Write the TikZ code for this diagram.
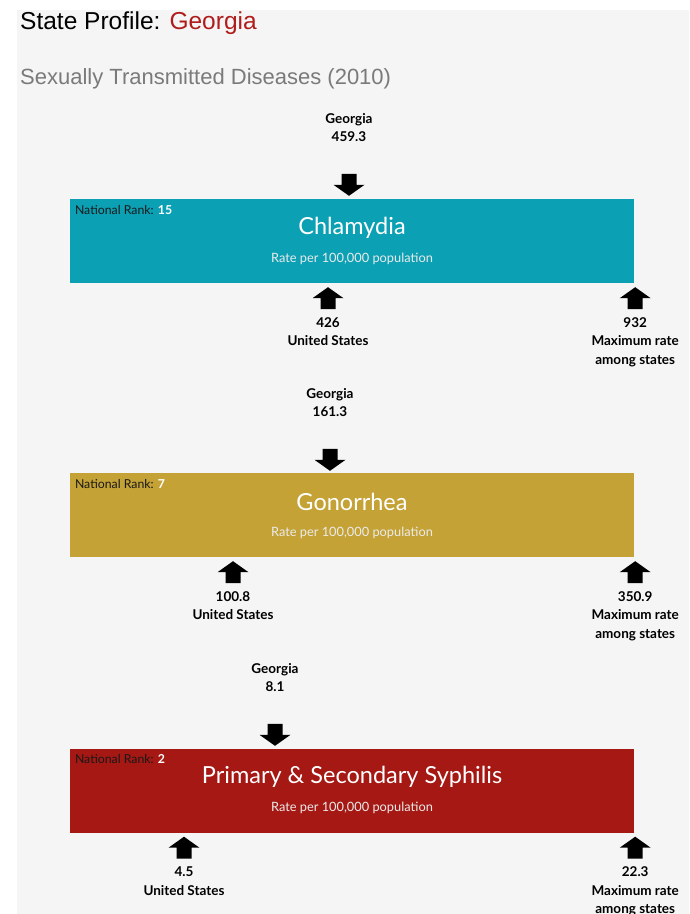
\documentclass[tikz,border=0pt]{standalone}
\usepackage{fontspec}
\setmainfont{Lato}
\newfontfamily\arialf{Liberation Sans}
\usetikzlibrary{calc}
\definecolor{bgc}{HTML}{F5F5F5}
\definecolor{chlc}{HTML}{0CA0B4}
\definecolor{gonc}{HTML}{C4A236}
\definecolor{syphc}{HTML}{A51813}
\definecolor{geoc}{HTML}{B01C1C}
\definecolor{subc}{HTML}{7A7A7A}
\begin{document}
\begin{tikzpicture}[x=1pt,y=-1pt,
  box/.style={rectangle, minimum width=564pt, minimum height=84pt, inner sep=0pt},
  lbl/.style={font=\fontsize{13.5}{18.5}\selectfont\bfseries, align=center, anchor=north, inner sep=0pt, text=black},
  boxtitle/.style={font=\fontsize{23.5}{27}\selectfont, text=white, inner sep=0pt},
  rate/.style={font=\fontsize{12.8}{14}\selectfont, text=white!92!black, inner sep=0pt},
  rank/.style={font=\fontsize{12.3}{14}\selectfont, anchor=west, inner sep=0pt, text=black!90},
  uparr/.pic={\fill[black] (0,0)--(15.5,11)--(7.5,11)--(7.5,22)--(-7.5,22)--(-7.5,11)--(-15.5,11)--cycle;},
  dnarr/.pic={\fill[black] (0,0)--(15.5,-11)--(7.5,-11)--(7.5,-22)--(-7.5,-22)--(-7.5,-11)--(-15.5,-11)--cycle;}
]
\useasboundingbox (0,0) rectangle (689,914);
\fill[white] (0,0) rectangle (689,914);
\fill[bgc] (17,10) rectangle (689,914);

% titles
\node[anchor=base west, inner sep=0pt, font=\arialf\fontsize{24.5}{28}\selectfont] (title) at (20,29.5) {State Profile: \textcolor{geoc}{Georgia}};
\node[anchor=base west, inner sep=0pt, font=\arialf\fontsize{22}{26}\selectfont, text=subc] (subtitle) at (20,84) {Sexually Transmitted Diseases (2010)};

% Chlamydia
\node[box, fill=chlc] (chl) at (352,241) {};
\node[boxtitle] (chlT) at ($(chl.north)+(0,29)$) {Chlamydia};
\node[rate] (chlRate) at ($(chl.north)+(0,60)$) {Rate per 100,000 population};
\node[rank] (chlRank) at ($(chl.north west)+(5,11)$) {National Rank: \textcolor{white}{\bfseries 15}};
\pic (chlDn) at ($(chl.north)+(-3,-3)$) {dnarr};
\node[lbl] (chlGeo) at ($(chl.north)+(-3,-86)$) {Georgia\\459.3};
\pic (chlUp) at ($(chl.south)+(-24,4)$) {uparr};
\node[lbl] (chlUS) at ($(chl.south)+(-24,34)$) {426\\United States};
\pic (chlMx) at ($(chl.south east)+(1,4)$) {uparr};
\node[lbl] (chlMax) at ($(chl.south east)+(1,34)$) {932\\Maximum rate\\among states};

% Gonorrhea
\node[box, fill=gonc] (gon) at (352,515) {};
\node[boxtitle] (gonT) at ($(gon.north)+(0,29)$) {Gonorrhea};
\node[rate] (gonRate) at ($(gon.north)+(0,60)$) {Rate per 100,000 population};
\node[rank] (gonRank) at ($(gon.north west)+(5,11)$) {National Rank: \textcolor{white}{\bfseries 7}};
\pic (gonDn) at ($(gon.north)+(-22,-2)$) {dnarr};
\node[lbl] (gonGeo) at ($(gon.north)+(-22,-85)$) {Georgia\\161.3};
\pic (gonUp) at ($(gon.south)+(-119,4)$) {uparr};
\node[lbl] (gonUS) at ($(gon.south)+(-119,34)$) {100.8\\United States};
\pic (gonMx) at ($(gon.south east)+(1,4)$) {uparr};
\node[lbl] (gonMax) at ($(gon.south east)+(1,34)$) {350.9\\Maximum rate\\among states};

% Syphilis
\node[box, fill=syphc] (syp) at (352,790.5) {};
\node[boxtitle] (sypT) at ($(syp.north)+(0,29)$) {Primary \& Secondary Syphilis};
\node[rate] (sypRate) at ($(syp.north)+(0,60)$) {Rate per 100,000 population};
\node[rank] (sypRank) at ($(syp.north west)+(5,11)$) {National Rank: \textcolor{white}{\bfseries 2}};
\pic (sypDn) at ($(syp.north)+(-77,-2.5)$) {dnarr};
\node[lbl] (sypGeo) at ($(syp.north)+(-77,-85.5)$) {Georgia\\8.1};
\pic (sypUp) at ($(syp.south)+(-168,4)$) {uparr};
\node[lbl] (sypUS) at ($(syp.south)+(-168,34)$) {4.5\\United States};
\pic (sypMx) at ($(syp.south east)+(1,4)$) {uparr};
\node[lbl] (sypMax) at ($(syp.south east)+(1,34)$) {22.3\\Maximum rate\\among states};
\end{tikzpicture}
\end{document}
